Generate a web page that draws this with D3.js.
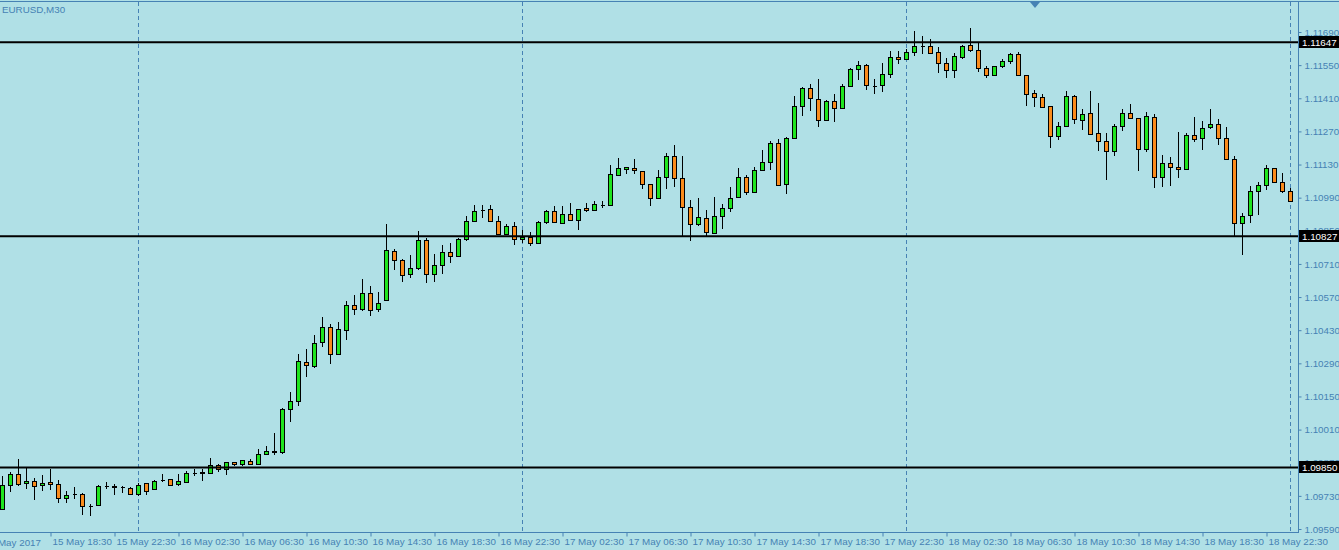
<!DOCTYPE html>
<html>
<head>
<meta charset="utf-8">
<title>EURUSD,M30</title>
<script src="https://cdn.jsdelivr.net/npm/d3@7"></script>
<style>
  html, body { margin: 0; padding: 0; background: #b0e0e6; overflow: hidden; }
  svg { display: block; }
  text { font-family: "Liberation Sans", Arial, sans-serif; }
</style>
</head>
<body>
<svg id="chart" width="1339" height="550"></svg>
<script>
// EURUSD 30 minute bars, 15 May 2017 15:30 .. 19 May 00:00
var symbol = "EURUSD,M30";
var startTime = new Date(2017, 4, 15, 15, 30);

var open = [
  1.09676,1.09775,1.09822,1.09783,1.09793,1.09775,1.09789,1.09780,1.09720,1.09737,
  1.09737,1.09688,1.09690,1.09770,1.09769,1.09767,1.09762,1.09739,1.09783,1.09760,
  1.09797,1.09800,1.09779,1.09790,1.09825,1.09828,1.09828,1.09860,1.09842,1.09872,
  1.09863,1.09876,1.09863,1.09906,1.09917,1.09914,1.10096,1.10130,1.10294,1.10277,
  1.10379,1.10443,1.10328,1.10429,1.10535,1.10521,1.10586,1.10518,1.10556,1.10763,
  1.10725,1.10666,1.10691,1.10810,1.10666,1.10704,1.10759,1.10742,1.10814,1.10890,
  1.10936,1.10941,1.10890,1.10835,1.10869,1.10814,1.10822,1.10797,1.10886,1.10932,
  1.10882,1.10920,1.10894,1.10945,1.10937,1.10958,1.10957,1.11084,1.11110,1.11114,
  1.11101,1.11046,1.10987,1.11076,1.11165,1.11072,1.10949,1.10877,1.10903,1.10839,
  1.10911,1.10945,1.10991,1.11076,1.11013,1.11105,1.11139,1.11220,1.11046,1.11241,
  1.11376,1.11452,1.11405,1.11317,1.11397,1.11367,1.11460,1.11532,1.11549,1.11461,
  1.11465,1.11511,1.11583,1.11574,1.11604,1.11631,1.11629,1.11604,1.11558,1.11528,
  1.11583,1.11634,1.11613,1.11536,1.11507,1.11545,1.11566,1.11596,1.11507,1.11431,
  1.11414,1.11376,1.11249,1.11291,1.11418,1.11317,1.11346,1.11262,1.11228,1.11186,
  1.11291,1.11346,1.11325,1.11194,1.11329,1.11076,1.11135,1.11118,1.11110,1.11253,
  1.11241,1.11287,1.11300,1.11241,1.11152,1.10882,1.10915,1.11017,1.11042,1.11114,
  1.11055,1.11017
];
var high = [
  1.09814,1.09830,1.09886,1.09846,1.09804,1.09818,1.09845,1.09797,1.09752,1.09767,
  1.09741,1.09696,1.09776,1.09789,1.09779,1.09772,1.09767,1.09783,1.09786,1.09797,
  1.09822,1.09802,1.09824,1.09834,1.09845,1.09843,1.09890,1.09865,1.09873,1.09873,
  1.09882,1.09885,1.09928,1.09939,1.09996,1.10100,1.10168,1.10329,1.10350,1.10410,
  1.10486,1.10455,1.10463,1.10553,1.10579,1.10646,1.10617,1.10591,1.10879,1.10772,
  1.10729,1.10748,1.10848,1.10818,1.10751,1.10789,1.10797,1.10818,1.10911,1.10958,
  1.10958,1.10958,1.10912,1.10877,1.10886,1.10852,1.10844,1.10892,1.10937,1.10953,
  1.10953,1.10966,1.10941,1.10966,1.10975,1.10975,1.11127,1.11156,1.11118,1.11152,
  1.11101,1.11046,1.11105,1.11177,1.11211,1.11165,1.10979,1.10987,1.10937,1.10991,
  1.10962,1.11034,1.11114,1.11084,1.11118,1.11190,1.11228,1.11236,1.11245,1.11418,
  1.11456,1.11469,1.11490,1.11401,1.11427,1.11469,1.11536,1.11566,1.11553,1.11490,
  1.11558,1.11608,1.11608,1.11617,1.11694,1.11673,1.11659,1.11625,1.11579,1.11600,
  1.11634,1.11707,1.11642,1.11545,1.11547,1.11574,1.11600,1.11604,1.11507,1.11444,
  1.11427,1.11376,1.11308,1.11441,1.11422,1.11363,1.11441,1.11389,1.11262,1.11300,
  1.11363,1.11384,1.11325,1.11351,1.11342,1.11169,1.11160,1.11266,1.11262,1.11329,
  1.11312,1.11363,1.11321,1.11287,1.11165,1.10924,1.11038,1.11055,1.11127,1.11114,
  1.11093,1.11029
];
var low = [
  1.09674,1.09746,1.09772,1.09759,1.09714,1.09752,1.09755,1.09701,1.09699,1.09716,
  1.09649,1.09646,1.09690,1.09758,1.09735,1.09743,1.09735,1.09731,1.09734,1.09756,
  1.09787,1.09773,1.09773,1.09783,1.09815,1.09794,1.09824,1.09830,1.09819,1.09856,
  1.09856,1.09863,1.09863,1.09906,1.09901,1.09906,1.10043,1.10109,1.10233,1.10269,
  1.10358,1.10288,1.10328,1.10390,1.10494,1.10512,1.10491,1.10508,1.10552,1.10686,
  1.10635,1.10652,1.10683,1.10628,1.10632,1.10666,1.10712,1.10738,1.10805,1.10886,
  1.10903,1.10886,1.10831,1.10831,1.10789,1.10797,1.10784,1.10797,1.10877,1.10882,
  1.10882,1.10890,1.10852,1.10928,1.10932,1.10945,1.10953,1.11084,1.11089,1.11089,
  1.11025,1.10953,1.10983,1.11025,1.11034,1.10825,1.10805,1.10869,1.10827,1.10835,
  1.10856,1.10928,1.10991,1.11000,1.11013,1.11101,1.11105,1.11042,1.11004,1.11236,
  1.11334,1.11355,1.11287,1.11312,1.11308,1.11363,1.11456,1.11486,1.11443,1.11427,
  1.11435,1.11494,1.11553,1.11574,1.11587,1.11596,1.11600,1.11515,1.11494,1.11494,
  1.11574,1.11604,1.11520,1.11494,1.11507,1.11536,1.11553,1.11507,1.11376,1.11372,
  1.11367,1.11198,1.11232,1.11287,1.11300,1.11274,1.11258,1.11186,1.11063,1.11165,
  1.11270,1.11321,1.11101,1.11181,1.11029,1.11034,1.11038,1.11072,1.11105,1.11224,
  1.11190,1.11279,1.11211,1.11148,1.10827,1.10746,1.10882,1.10915,1.11021,1.11051,
  1.11008,1.10970
];
var close = [
  1.09776,1.09822,1.09779,1.09793,1.09770,1.09784,1.09779,1.09720,1.09732,1.09738,
  1.09686,1.09689,1.09770,1.09771,1.09770,1.09768,1.09739,1.09776,1.09752,1.09793,
  1.09798,1.09778,1.09793,1.09827,1.09826,1.09829,1.09860,1.09842,1.09872,1.09863,
  1.09880,1.09863,1.09906,1.09918,1.09918,1.10096,1.10130,1.10299,1.10282,1.10375,
  1.10443,1.10328,1.10434,1.10535,1.10518,1.10586,1.10514,1.10544,1.10767,1.10725,
  1.10662,1.10691,1.10810,1.10666,1.10704,1.10759,1.10742,1.10814,1.10890,1.10932,
  1.10937,1.10890,1.10835,1.10869,1.10814,1.10822,1.10797,1.10886,1.10932,1.10886,
  1.10920,1.10894,1.10941,1.10937,1.10962,1.10959,1.11089,1.11114,1.11118,1.11105,
  1.11046,1.10987,1.11076,1.11165,1.11072,1.10949,1.10877,1.10907,1.10844,1.10911,
  1.10945,1.10987,1.11076,1.11013,1.11105,1.11139,1.11220,1.11042,1.11241,1.11376,
  1.11452,1.11410,1.11317,1.11397,1.11367,1.11460,1.11532,1.11549,1.11465,1.11462,
  1.11511,1.11583,1.11574,1.11604,1.11629,1.11632,1.11600,1.11558,1.11528,1.11587,
  1.11629,1.11613,1.11536,1.11507,1.11545,1.11566,1.11596,1.11507,1.11427,1.11414,
  1.11372,1.11249,1.11291,1.11418,1.11321,1.11342,1.11258,1.11228,1.11186,1.11291,
  1.11346,1.11325,1.11194,1.11334,1.11076,1.11135,1.11118,1.11110,1.11253,1.11236,
  1.11283,1.11300,1.11241,1.11152,1.10882,1.10911,1.11017,1.11042,1.11114,1.11055,
  1.11017,1.10975
];

// price scale labels and the three horizontal levels drawn on the chart
var priceTicks = [1.11690,1.11550,1.11410,1.11270,1.11130,1.10990,1.10850,1.10710,
                  1.10570,1.10430,1.10290,1.10150,1.10010,1.09870,1.09730,1.09590];
var levels = [1.11647, 1.10827, 1.09850];
var firstLabel = "15 May 2017";

var W = 1339, H = 550;
var plotRight = 1298, plotBottom = 532;
var axisColor = "#4682b4";
var bullColor = "#1fe41f", bearColor = "#fa8c1c";
var fontSize = "9.8px";

var n = open.length;
var times = d3.range(n).map(function(i) { return d3.timeMinute.offset(startTime, 30 * i); });

var x = d3.scaleLinear().domain([0, n - 1]).range([2, 2 + 8 * (n - 1)]);
var y = d3.scaleLinear().domain([1.09590, 1.11690]).range([529, 32]);

var svg = d3.select("#chart");

svg.append("rect").attr("width", W).attr("height", H).attr("fill", "#b0e0e6");

// day separators (midnight bars)
var dayIdx = d3.range(n).filter(function(i) { return times[i].getHours() === 0 && times[i].getMinutes() === 0; });
svg.append("g").selectAll("line").data(dayIdx).join("line")
  .attr("x1", function(i) { return Math.round(x(i)) + 0.5; })
  .attr("x2", function(i) { return Math.round(x(i)) + 0.5; })
  .attr("y1", 2).attr("y2", plotBottom)
  .attr("stroke", axisColor).attr("stroke-dasharray", "4,3");

// candles
var candles = svg.append("g").attr("shape-rendering", "crispEdges")
  .selectAll("g").data(d3.range(n)).join("g");

candles.append("line")
  .attr("x1", function(i) { return Math.round(x(i)) + 0.5; })
  .attr("x2", function(i) { return Math.round(x(i)) + 0.5; })
  .attr("y1", function(i) { return y(high[i]); })
  .attr("y2", function(i) { return y(low[i]); })
  .attr("stroke", "#000");

candles.append("path")
  .attr("d", function(i) {
    var xc = Math.round(x(i)) + 0.5;
    var y0 = Math.round(y(open[i])) + 0.5, y1 = Math.round(y(close[i])) + 0.5;
    return "M" + (xc - 2) + "," + y0 + "H" + (xc + 2) + "V" + y1 + "H" + (xc - 2) + "Z";
  })
  .attr("fill", function(i) { return close[i] >= open[i] ? bullColor : bearColor; })
  .attr("stroke", "#000");

// frame
svg.append("line").attr("x1", 0).attr("x2", W).attr("y1", 1.5).attr("y2", 1.5).attr("stroke", axisColor);
svg.append("line").attr("x1", plotRight + 0.5).attr("x2", plotRight + 0.5).attr("y1", 1).attr("y2", plotBottom + 1).attr("stroke", axisColor);
svg.append("line").attr("x1", 0).attr("x2", plotRight + 1).attr("y1", plotBottom + 0.5).attr("y2", plotBottom + 0.5).attr("stroke", axisColor);

// chart shift marker
svg.append("path").attr("d", "M1030,2L1040,2L1035,8Z").attr("fill", axisColor);

// price axis
var yAxis = d3.axisRight(y).tickValues(priceTicks).tickSize(3).tickSizeOuter(0).tickPadding(3)
  .tickFormat(d3.format(".5f"));
var ya = svg.append("g").attr("transform", "translate(" + (plotRight + 0.5) + ",0)").call(yAxis);
ya.select(".domain").remove();
ya.selectAll(".tick line").attr("stroke", axisColor);
ya.selectAll(".tick text").attr("fill", axisColor).style("font-size", fontSize)
  .style("font-family", "'Liberation Sans', Arial, sans-serif");

// time axis
var labelIdx = d3.range(n).filter(function(i) { return times[i].getHours() % 4 === 2 && times[i].getMinutes() === 30; });
var fmt = d3.timeFormat("%-d %b %H:%M");
var xAxis = d3.axisBottom(x).tickValues(labelIdx).tickSize(4).tickSizeOuter(0)
  .tickFormat(function(i) { return fmt(times[i]); });
var xa = svg.append("g").attr("transform", "translate(0," + (plotBottom + 0.5) + ")").call(xAxis);
xa.select(".domain").remove();
xa.selectAll(".tick line").attr("stroke", axisColor).attr("transform", "translate(0.5,0)");
xa.selectAll(".tick text").attr("fill", axisColor).attr("text-anchor", "start")
  .attr("x", 2).attr("y", 6).style("font-size", fontSize)
  .style("font-family", "'Liberation Sans', Arial, sans-serif");
svg.append("text").attr("x", 41).attr("y", 545.5).attr("text-anchor", "end")
  .attr("fill", axisColor).style("font-size", fontSize).text(firstLabel);

// horizontal levels
var lv = svg.append("g").selectAll("g").data(levels).join("g");
lv.append("line").attr("x1", 0).attr("x2", plotRight)
  .attr("y1", function(d) { return y(d); }).attr("y2", function(d) { return y(d); })
  .attr("stroke", "#000").attr("stroke-width", 2);
lv.append("rect").attr("x", plotRight + 1).attr("width", W - plotRight - 1)
  .attr("y", function(d) { return Math.round(y(d)) - 6; }).attr("height", 12).attr("fill", "#000");
lv.append("text").attr("x", plotRight + 4).attr("y", function(d) { return Math.round(y(d)) + 3.5; })
  .attr("fill", "#fff").style("font-size", fontSize).text(function(d) { return d.toFixed(5); });

// symbol title
svg.append("text").attr("x", 2).attr("y", 13).attr("fill", axisColor).style("font-size", fontSize).text(symbol);
</script>
</body>
</html>
